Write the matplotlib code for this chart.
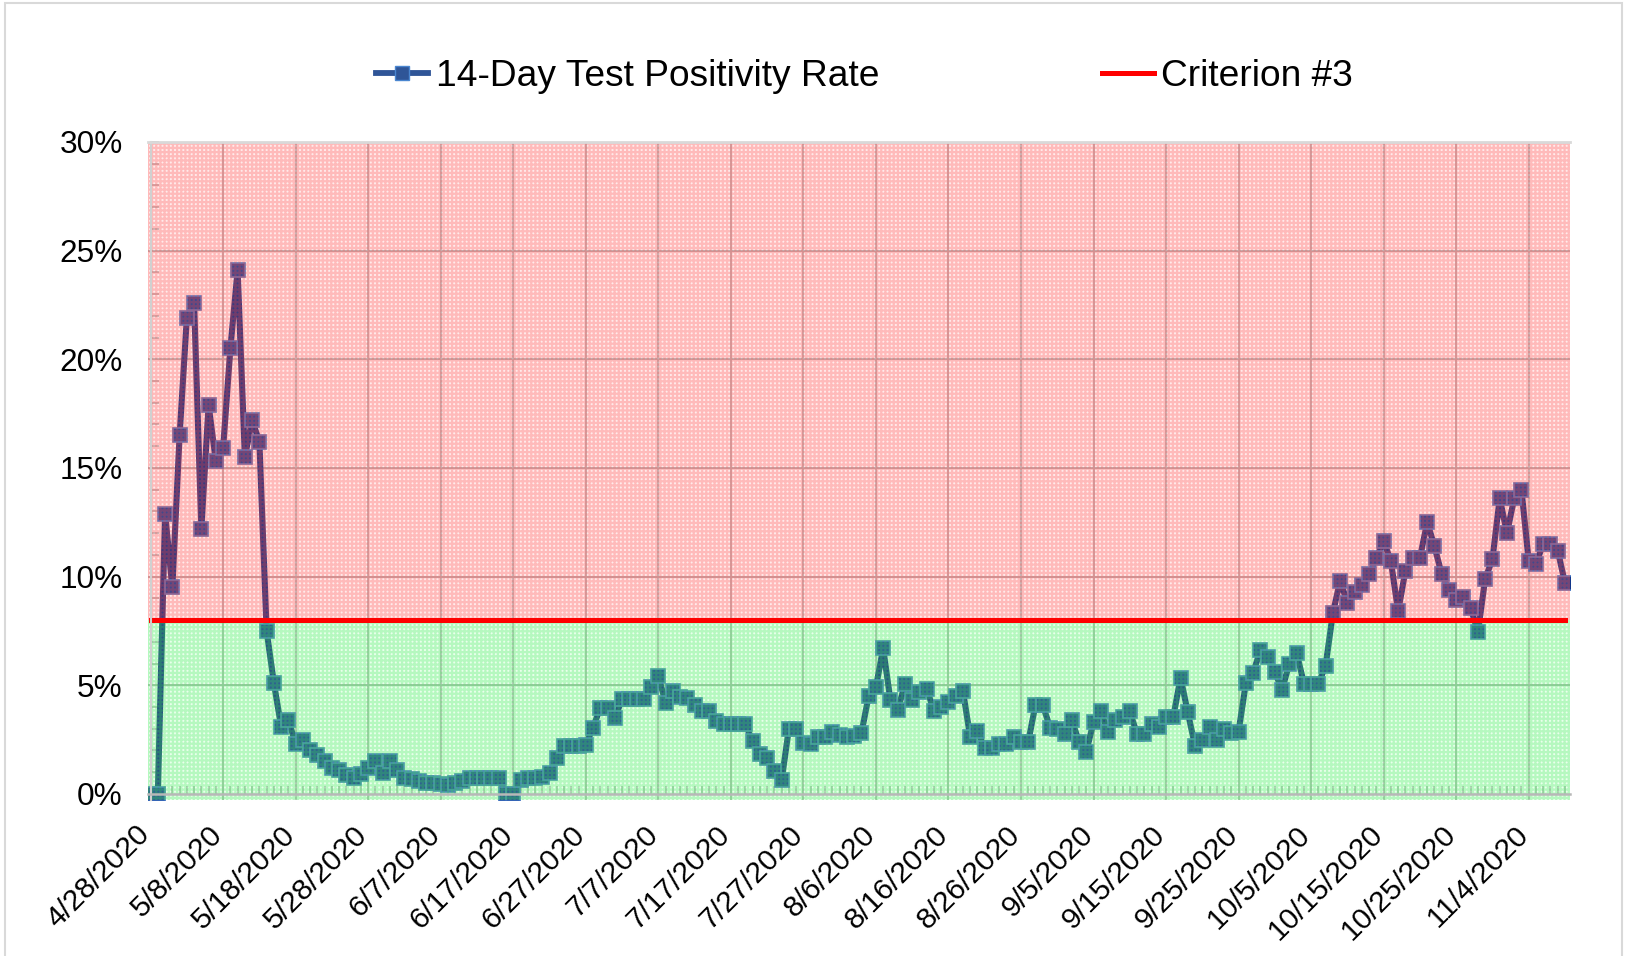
import numpy as np
import pandas as pd
import matplotlib
matplotlib.use('Agg')
import matplotlib.pyplot as plt
import matplotlib.dates as mdates
import matplotlib.transforms as mtransforms
from matplotlib.ticker import PercentFormatter, MultipleLocator
from matplotlib.lines import Line2D
from matplotlib.patches import Rectangle

plt.rcParams['font.family'] = ['Liberation Sans', 'DejaVu Sans']
plt.rcParams['hatch.linewidth'] = 1.6

# 14-day test positivity rate (%), one value per day starting 4/28/2020
start_date = '2020-04-28'
rate = [
    0, 0, 12.9, 9.5, 16.5, 21.9, 22.6, 12.2, 17.9, 15.3,
    15.9, 20.5, 24.1, 15.5, 17.2, 16.2, 7.5, 5.1, 3.1, 3.4,
    2.3, 2.5, 2.0, 1.8, 1.5, 1.2, 1.1, 0.85, 0.75, 0.9,
    1.2, 1.5, 0.95, 1.5, 1.1, 0.75, 0.7, 0.6, 0.5, 0.5,
    0.45, 0.43, 0.5, 0.6, 0.74, 0.74, 0.74, 0.74, 0.74, 0,
    0, 0.66, 0.74, 0.74, 0.8, 0.97, 1.66, 2.2, 2.2, 2.2,
    2.25, 3.05, 3.97, 3.97, 3.5, 4.35, 4.35, 4.35, 4.35, 4.9,
    5.43, 4.2, 4.74, 4.46, 4.43, 4.1, 3.8, 3.8, 3.35, 3.2,
    3.2, 3.2, 3.2, 2.43, 1.85, 1.63, 1.05, 0.62, 3.0, 3.0,
    2.35, 2.3, 2.6, 2.6, 2.85, 2.7, 2.6, 2.65, 2.8, 4.5,
    4.9, 6.7, 4.3, 3.85, 5.05, 4.3, 4.7, 4.85, 3.8, 4.0,
    4.25, 4.5, 4.75, 2.6, 2.9, 2.1, 2.1, 2.3, 2.3, 2.6,
    2.4, 2.4, 4.1, 4.1, 3.05, 3.0, 2.75, 3.4, 2.4, 1.95,
    3.3, 3.8, 2.85, 3.4, 3.55, 3.8, 2.75, 2.75, 3.2, 3.1,
    3.55, 3.55, 5.35, 3.75, 2.2, 2.48, 3.09, 2.5, 3.0, 2.78,
    2.86, 5.1, 5.57, 6.6, 6.3, 5.6, 4.8, 6.0, 6.5, 5.08,
    5.08, 5.08, 5.9, 8.33, 9.8, 8.8, 9.28, 9.6, 10.1, 10.86,
    11.65, 10.7, 8.4, 10.27, 10.86, 10.86, 12.5, 11.4, 10.1, 9.4,
    8.9, 9.05, 8.56, 7.45, 9.9, 10.8, 13.6, 12.0, 13.6, 14.0,
    10.7, 10.6, 11.5, 11.5, 11.2, 9.7,
]
criterion = 8.0  # Criterion #3 threshold (%)
y_ticks = [0, 5, 10, 15, 20, 25, 30]

dates = pd.date_range(start_date, periods=len(rate), freq='D')
label_dates = dates[::10]
x_labels = [f'{d.month}/{d.day}/{d.year}' for d in label_dates]

fig = plt.figure(figsize=(16.26, 9.56), dpi=100)
ax = fig.add_axes([0.091, 0.1632, 0.8746, 0.6883])

xnum = mdates.date2num(dates)
ax.set_xlim(xnum[0] - 0.36, xnum[-1] + 0.7)
ax.set_ylim(-0.28, 30)

# gridlines
for xv in mdates.date2num(label_dates):
    ax.axvline(xv, color='#bdbdbd', lw=1.5, zorder=0.5)
for yv in y_ticks[1:]:
    ax.axhline(yv, color='#b5b5b5', lw=1.5, zorder=0.5)

# the rate series (sits under the see-through zone patterns)
ax.plot(dates, rate, color='#0a2478', lw=4.4, marker='s', markersize=10,
        markerfacecolor='#12368a', markeredgecolor='#3c6ebe', markeredgewidth=1.2,
        zorder=2)

# patterned red / green zones, semi transparent
ax.axhspan(criterion, 30, facecolor=(1, 0.6, 0.6, 0.2),
           edgecolor=(1, 0.25, 0.25, 0.28), hatch='++++', lw=0, zorder=3)
ax.axhspan(-0.28, criterion, facecolor=(0.6, 1, 0.65, 0.22),
           edgecolor=(0.2, 0.9, 0.3, 0.28), hatch='++++', lw=0, zorder=3)

ax.plot(dates, [criterion] * len(dates), color='#ff0000', lw=3.6, zorder=4)

# axes styling
ax.spines['right'].set_visible(False)
ax.spines['top'].set_color('#d9d9d9')
ax.spines['top'].set_linewidth(2)
ax.spines['left'].set_color('#d0d0d0')
ax.spines['left'].set_linewidth(1.5)
ax.spines['left'].set_position(('data', xnum[0]))
ax.spines['bottom'].set_color('#b8b8b8')
ax.spines['bottom'].set_linewidth(1.8)
ax.spines['bottom'].set_position(('data', 0))
for sp in ax.spines.values():
    sp.set_zorder(5)

ax.set_yticks(y_ticks)
ax.yaxis.set_major_formatter(PercentFormatter(xmax=100, decimals=0))
ax.yaxis.set_minor_locator(MultipleLocator(1))
ax.tick_params(axis='y', which='both', direction='in', color='#b8b8b8',
               length=6, width=1.2, labelsize=22.7, pad=20)

ax.set_xticks(mdates.date2num(label_dates))
ax.set_xticklabels(x_labels, rotation=45, ha='right', va='top')
ax.xaxis.set_minor_locator(mdates.DayLocator())
ax.tick_params(axis='x', which='both', direction='in', color='#b8b8b8',
               length=6, width=1.2, labelsize=21.5, pad=19)
offset = mtransforms.ScaledTranslation(5 / 100, 0, fig.dpi_scale_trans)
for lbl in ax.get_xticklabels():
    lbl.set_transform(lbl.get_transform() + offset)

# legend
handles = [
    Line2D([], [], color='#2f5597', lw=4.2, marker='s', markersize=10,
           markerfacecolor='#2f5597', markeredgecolor='#4a86d0'),
    Line2D([], [], color='#ff0000', lw=3.6),
]
fig.legend(handles, ['14-Day Test Positivity Rate', 'Criterion #3'],
           loc='center', bbox_to_anchor=(0.5317, 0.9195), ncol=2,
           frameon=False, fontsize=26.7, handlelength=1.4,
           handletextpad=0.2, columnspacing=6.0, borderpad=0)

# chart border
fig.patches.append(Rectangle((5 / 1626, -0.05), 1617 / 1626, 1.05 - 3 / 956,
                             transform=fig.transFigure, fill=False,
                             edgecolor='#d9d9d9', lw=1.5))

fig.savefig('out.png', dpi=100)
